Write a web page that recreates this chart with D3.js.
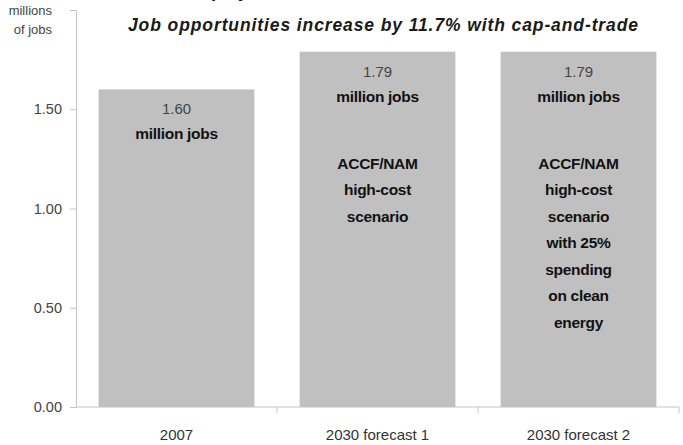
<!DOCTYPE html>
<html lang="en">
<head>
  <meta charset="UTF-8">
  <title>Employment with cap-and-trade</title>
  <style>
    body {
      margin: 0;
      padding: 0;
      background: #ffffff;
      font-family: 'Liberation Sans', Arial, sans-serif;
    }
    .tick text { fill: #444; font-size: 14.5px; }
    .axis path, .axis line { stroke: #c4c4c4; }
  </style>
</head>
<body>
<svg width="683" height="445"></svg>

<script src="https://d3js.org/d3.v7.min.js"></script>
<script>
  const width = 683, height = 445;

  // data
  const categories = ["2007", "2030 forecast 1", "2030 forecast 2"];
  const jobs = [1.60, 1.79, 1.79];
  const valueLabels = ["1.60", "1.79", "1.79"];
  const notes = [
    [],
    ["ACCF/NAM", "high-cost", "scenario"],
    ["ACCF/NAM", "high-cost", "scenario", "with 25%", "spending", "on clean", "energy"]
  ];
  const yTicks = [0, 0.5, 1.0, 1.5];

  const margin = {top: 10, right: 4, bottom: 38, left: 76};

  const svg = d3.select("svg");

  const x = d3.scaleBand()
    .domain(categories)
    .range([margin.left, width - margin.right])
    .paddingInner(0.225)
    .paddingOuter(0.1125);

  const y = d3.scaleLinear()
    .domain([0, 2])
    .range([height - margin.bottom, margin.top]);

  // title, mostly cut off at the top edge (as in the source image)
  svg.append("text")
    .attr("x", 119)
    .attr("y", -3)
    .attr("font-size", 18)
    .attr("font-weight", "bold")
    .attr("fill", "#111")
    .text("Overall employment in 2030");

  svg.append("text")
    .attr("x", 128)
    .attr("y", 31)
    .attr("font-size", 17.5)
    .attr("font-style", "italic")
    .attr("font-weight", "bold")
    .attr("fill", "#1a1a1a")
    .attr("textLength", 510)
    .attr("lengthAdjust", "spacing")
    .text("Job opportunities increase by 11.7% with cap-and-trade");

  // y axis
  const yAxis = svg.append("g")
    .attr("class", "axis")
    .attr("transform", `translate(${margin.left},0)`)
    .call(d3.axisLeft(y).tickValues(yTicks).tickSize(6).tickPadding(8)
      .tickFormat(d3.format(".2f")).tickSizeOuter(6));
  yAxis.select(".domain").attr("stroke", "#c4c4c4");

  svg.append("text")
    .attr("x", 52)
    .attr("y", 15)
    .attr("text-anchor", "end")
    .attr("font-size", 13)
    .attr("fill", "#444")
    .selectAll("tspan")
    .data(["millions", "of jobs"])
    .join("tspan")
    .attr("x", 52)
    .attr("dy", (d, i) => i === 0 ? 0 : 19)
    .text(d => d);

  // bars
  svg.selectAll("rect.bar")
    .data(categories)
    .join("rect")
    .attr("class", "bar")
    .attr("x", d => x(d))
    .attr("y", (d, i) => y(jobs[i]))
    .attr("width", x.bandwidth())
    .attr("height", (d, i) => y(0) - y(jobs[i]))
    .attr("fill", "#c0c0c0");

  // x axis with tick marks between the bars
  const base = y(0);
  svg.append("line")
    .attr("x1", margin.left).attr("x2", width - margin.right)
    .attr("y1", base).attr("y2", base)
    .attr("stroke", "#c4c4c4");
  const step = x.step();
  svg.selectAll("line.sep")
    .data(d3.range(1, categories.length + 1))
    .join("line")
    .attr("class", "sep")
    .attr("x1", i => margin.left + i * step)
    .attr("x2", i => margin.left + i * step)
    .attr("y1", base)
    .attr("y2", base + 6)
    .attr("stroke", "#c4c4c4");

  svg.selectAll("text.cat")
    .data(categories)
    .join("text")
    .attr("class", "cat")
    .attr("x", d => x(d) + x.bandwidth() / 2)
    .attr("y", base + 33)
    .attr("text-anchor", "middle")
    .attr("font-size", 15)
    .attr("fill", "#333")
    .text(d => d);

  // labels inside the bars
  const lineH = 26.5;
  categories.forEach((c, i) => {
    const cx = x(c) + x.bandwidth() / 2;
    const top = y(jobs[i]);
    svg.append("text")
      .attr("x", cx)
      .attr("y", top + 25)
      .attr("text-anchor", "middle")
      .attr("font-size", 15)
      .attr("fill", "#444")
      .text(valueLabels[i]);
    svg.append("text")
      .attr("x", cx)
      .attr("y", top + 50)
      .attr("text-anchor", "middle")
      .attr("font-size", 15.5)
      .attr("font-weight", "bold")
      .attr("letter-spacing", -0.3)
      .attr("fill", "#111")
      .text("million jobs");
    svg.selectAll(null)
      .data(notes[i])
      .join("text")
      .attr("x", cx)
      .attr("y", (d, k) => top + 117 + k * lineH)
      .attr("text-anchor", "middle")
      .attr("font-size", 15.5)
      .attr("font-weight", "bold")
      .attr("letter-spacing", -0.3)
      .attr("fill", "#111")
      .text(d => d);
  });
</script>
</body>
</html>
